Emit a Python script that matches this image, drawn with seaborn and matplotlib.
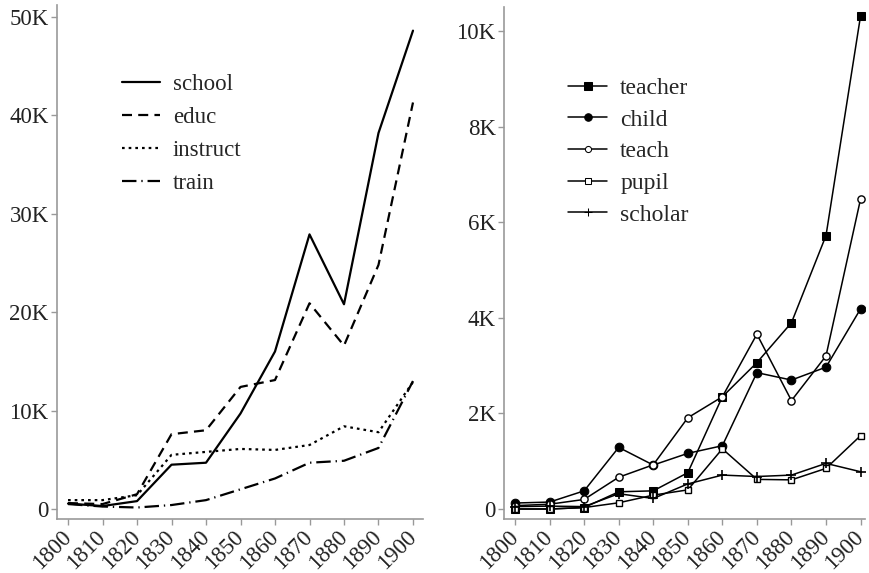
import numpy as np
import pandas as pd
import matplotlib
matplotlib.use("Agg")
import matplotlib.pyplot as plt
import seaborn as sns
from matplotlib.ticker import FuncFormatter

decades = [1800, 1810, 1820, 1830, 1840, 1850, 1860, 1870, 1880, 1890, 1900]

# word frequencies, general terms
school   = [550, 300, 800, 4500, 4700, 9700, 16000, 27900, 20800, 38200, 48600]
educ     = [600, 500, 1500, 7600, 8000, 12400, 13100, 20900, 16600, 24800, 41300]
instruct = [900, 900, 1400, 5500, 5800, 6100, 6000, 6500, 8400, 7800, 12900]
train    = [500, 250, 150, 400, 900, 2000, 3100, 4700, 4900, 6200, 13000]

# word frequencies, people
teacher = [0, 0, 30, 360, 380, 760, 2350, 3065, 3900, 5725, 10325]
child   = [125, 145, 380, 1290, 920, 1165, 1325, 2855, 2700, 2970, 4190]
teach   = [70, 100, 200, 665, 925, 1910, 2350, 3660, 2270, 3205, 6490]
pupil   = [0, 0, 30, 130, 290, 400, 1260, 620, 610, 850, 1535]
scholar = [50, 60, 50, 320, 220, 525, 710, 680, 710, 955, 780]

left_words = ["school", "educ", "instruct", "train"]
right_words = ["teacher", "child", "teach", "pupil", "scholar"]

left_df = pd.DataFrame({
    "year": decades * 4,
    "count": school + educ + instruct + train,
    "word": sum([[w] * len(decades) for w in left_words], []),
})
right_df = pd.DataFrame({
    "year": decades * 5,
    "count": teacher + child + teach + pupil + scholar,
    "word": sum([[w] * len(decades) for w in right_words], []),
})

sns.set_style("ticks")
plt.rcParams["font.family"] = ["Liberation Serif", "DejaVu Serif"]

fig = plt.figure(figsize=(8.7, 5.73), dpi=100)
ax1 = fig.add_axes([0.0655, 0.0942, 0.4207, 0.897])
ax2 = fig.add_axes([0.5793, 0.0942, 0.4150, 0.8935])

spine_col = "#999999"
kfmt = FuncFormatter(lambda v, p: "0" if v == 0 else f"{int(v/1000)}K")

# left panel: line styles only
sns.lineplot(data=left_df, x="year", y="count", style="word", ax=ax1,
             color="black", linewidth=1.6,
             dashes=["", (4.5, 2.8), (1.2, 1.8), (6.5, 2.2, 0.6, 2.2)],
             style_order=left_words)
ax1.set_xlim(1796.8, 1902.9)
ax1.set_ylim(-1020, 51200)
ax1.set_yticks([0, 10000, 20000, 30000, 40000, 50000])
ax1.yaxis.set_major_formatter(kfmt)

# right panel: markers ("P" is swapped for a thin "+" afterwards)
sns.lineplot(data=right_df, x="year", y="count", hue="word", style="word", ax=ax2,
             palette=["black"] * 5, linewidth=1.1, dashes=False,
             markers=["s", "o", "o", "s", "P"], style_order=right_words,
             hue_order=right_words, markersize=6)
ax2.set_xlim(1796.8, 1901.3)
ax2.set_ylim(-210, 10510)
ax2.set_yticks([0, 2000, 4000, 6000, 8000, 10000])
ax2.yaxis.set_major_formatter(kfmt)

# marker faces and sizes
sizes = {"teacher": 6.2, "child": 6.2, "teach": 5.2, "pupil": 5.0, "scholar": 6.5}
for line, w in zip(ax2.lines, right_words):
    line.set_markeredgecolor("black")
    line.set_markersize(sizes[w])
    if w in ("teach", "pupil"):
        line.set_markerfacecolor("white")
        line.set_markeredgewidth(1.0)
    elif w == "scholar":
        line.set_marker("+")
        line.set_markeredgewidth(1.2)
    else:
        line.set_markerfacecolor("black")

for ax in (ax1, ax2):
    sns.despine(ax=ax)
    ax.set_xlabel("")
    ax.set_ylabel("")
    ax.set_xticks(decades)
    ax.tick_params(axis="both", length=4, width=1, color=spine_col, labelsize=16.5,
                   labelcolor="#222222")
    ax.tick_params(axis="y", pad=2)
    ax.tick_params(axis="x", pad=7)
    for lab in ax.get_xticklabels():
        lab.set_rotation(45)
        lab.set_ha("right")
        lab.set_va("center")
        lab.set_rotation_mode("anchor")
    for s in ("left", "bottom"):
        ax.spines[s].set_color(spine_col)
        ax.spines[s].set_linewidth(1.2)

# legends
h1, l1 = ax1.get_legend_handles_labels()
ax1.legend(h1, l1, loc="upper left", bbox_to_anchor=(0.121, 0.906), frameon=False,
           fontsize=16.5, handlelength=1.65, handletextpad=0.57, labelspacing=0.52)
h2, l2 = ax2.get_legend_handles_labels()
for h, w in zip(h2, l2):
    h.set_markeredgecolor("black")
    h.set_markersize(sizes[w] - 0.8)
    if w in ("teach", "pupil"):
        h.set_markerfacecolor("white")
    elif w == "scholar":
        h.set_marker("+")
    else:
        h.set_markerfacecolor("black")
ax2.legend(h2, l2, loc="upper left", bbox_to_anchor=(0.119, 0.904), frameon=False,
           fontsize=17, handlelength=1.65, handletextpad=0.55, labelspacing=0.43)

fig.savefig("out.png", dpi=100, facecolor="white")
